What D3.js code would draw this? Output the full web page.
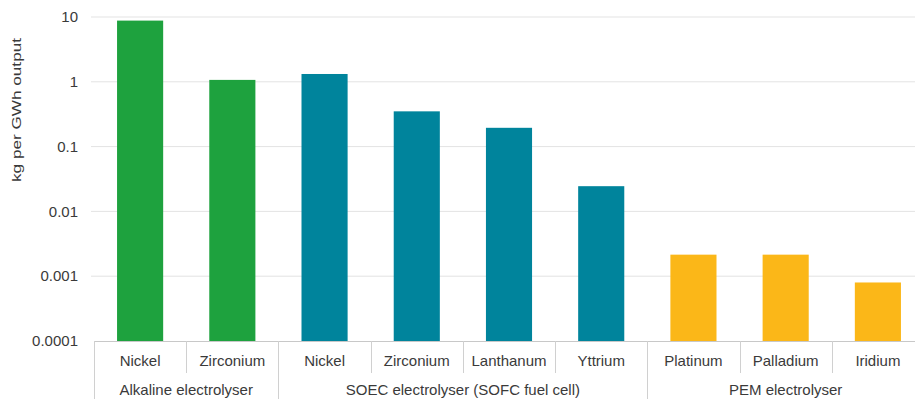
<!DOCTYPE html>
<html>
<head>
<meta charset="utf-8">
<script src="https://cdn.jsdelivr.net/npm/d3@7"></script>
<style>
  body { margin: 0; background: #fff; }
  svg { display: block; font-family: "Liberation Sans", Arial, sans-serif; }
</style>
</head>
<body>
<svg id="chart" width="915" height="399"></svg>
<script>
// data
const groups = ['Alkaline electrolyser', 'SOEC electrolyser (SOFC fuel cell)', 'PEM electrolyser'];
const materials = ['Nickel', 'Zirconium', 'Nickel', 'Zirconium', 'Lanthanum', 'Yttrium', 'Platinum', 'Palladium', 'Iridium'];
const materialGroup = [0, 0, 1, 1, 1, 1, 2, 2, 2];
const values = [8.8, 1.07, 1.32, 0.35, 0.195, 0.0245, 0.00215, 0.00215, 0.0008];
const groupColors = ['#1ea23e', '#00849c', '#fbb718'];
const yTicks = [10, 1, 0.1, 0.01, 0.001, 0.0001];
const yTickLabels = ['10', '1', '0.1', '0.01', '0.001', '0.0001'];

const svg = d3.select('#chart');
const plotLeft = 94, plotRight = 924, plotTop = 17, plotBottom = 341;
const textColor = '#3a3a3a';

const x = d3.scaleBand()
    .domain(d3.range(materials.length))
    .range([plotLeft, plotRight])
    .paddingInner(0.5)
    .paddingOuter(0.25);

const y = d3.scaleLog()
    .domain([0.0001, 10])
    .range([plotBottom, plotTop]);

// gridlines
svg.append('g')
    .selectAll('line')
    .data(yTicks.slice(0, -1))
    .enter().append('line')
    .attr('x1', plotLeft - 3)
    .attr('x2', 915)
    .attr('y1', d => y(d))
    .attr('y2', d => y(d))
    .attr('stroke', '#e3e3e3')
    .attr('stroke-width', 1);

// y tick labels
svg.append('g')
    .selectAll('text')
    .data(yTicks)
    .enter().append('text')
    .attr('x', 78)
    .attr('y', d => y(d))
    .attr('dy', '0.35em')
    .attr('text-anchor', 'end')
    .attr('font-size', 15)
    .attr('fill', textColor)
    .text((d, i) => yTickLabels[i]);

// y title
svg.append('text')
    .attr('transform', 'translate(21,110) rotate(-90)')
    .attr('text-anchor', 'middle')
    .attr('font-size', 13)
    .attr('textLength', 144)
    .attr('lengthAdjust', 'spacingAndGlyphs')
    .attr('fill', textColor)
    .text('kg per GWh output');

// bars
svg.append('g')
    .selectAll('rect')
    .data(values)
    .enter().append('rect')
    .attr('x', (d, i) => x(i))
    .attr('width', x.bandwidth())
    .attr('y', d => y(d))
    .attr('height', d => plotBottom - y(d))
    .attr('fill', (d, i) => groupColors[materialGroup[i]]);

// category axis
const axis = svg.append('g');
const step = x.step();
const bandStart = i => x(i) - x.paddingOuter() * step;

axis.append('line')
    .attr('x1', plotLeft).attr('x2', 915)
    .attr('y1', plotBottom + 0.5).attr('y2', plotBottom + 0.5)
    .attr('stroke', '#c8c8c8');

// separators: group edges run to the bottom, inner ones stop under the first row
materials.forEach((m, i) => {
    const isGroupEdge = i === 0 || materialGroup[i] !== materialGroup[i - 1];
    const sx = Math.round(bandStart(i)) + 0.5;
    axis.append('line')
        .attr('x1', sx).attr('x2', sx)
        .attr('y1', plotBottom).attr('y2', isGroupEdge ? 399 : 373)
        .attr('stroke', '#d0d0d0');
});

axis.selectAll('text.mat')
    .data(materials)
    .enter().append('text')
    .attr('class', 'mat')
    .attr('x', (d, i) => x(i) + x.bandwidth() / 2)
    .attr('y', 366)
    .attr('text-anchor', 'middle')
    .attr('font-size', 15)
    .attr('fill', textColor)
    .text(d => d);

axis.selectAll('text.grp')
    .data(groups)
    .enter().append('text')
    .attr('class', 'grp')
    .attr('x', (d, g) => {
        const idx = d3.range(materials.length).filter(i => materialGroup[i] === g);
        const x0 = bandStart(idx[0]);
        const x1 = bandStart(idx[idx.length - 1]) + step;
        return (x0 + x1) / 2;
    })
    .attr('y', 395)
    .attr('text-anchor', 'middle')
    .attr('font-size', 15)
    .attr('fill', textColor)
    .text(d => d);
</script>
</body>
</html>
